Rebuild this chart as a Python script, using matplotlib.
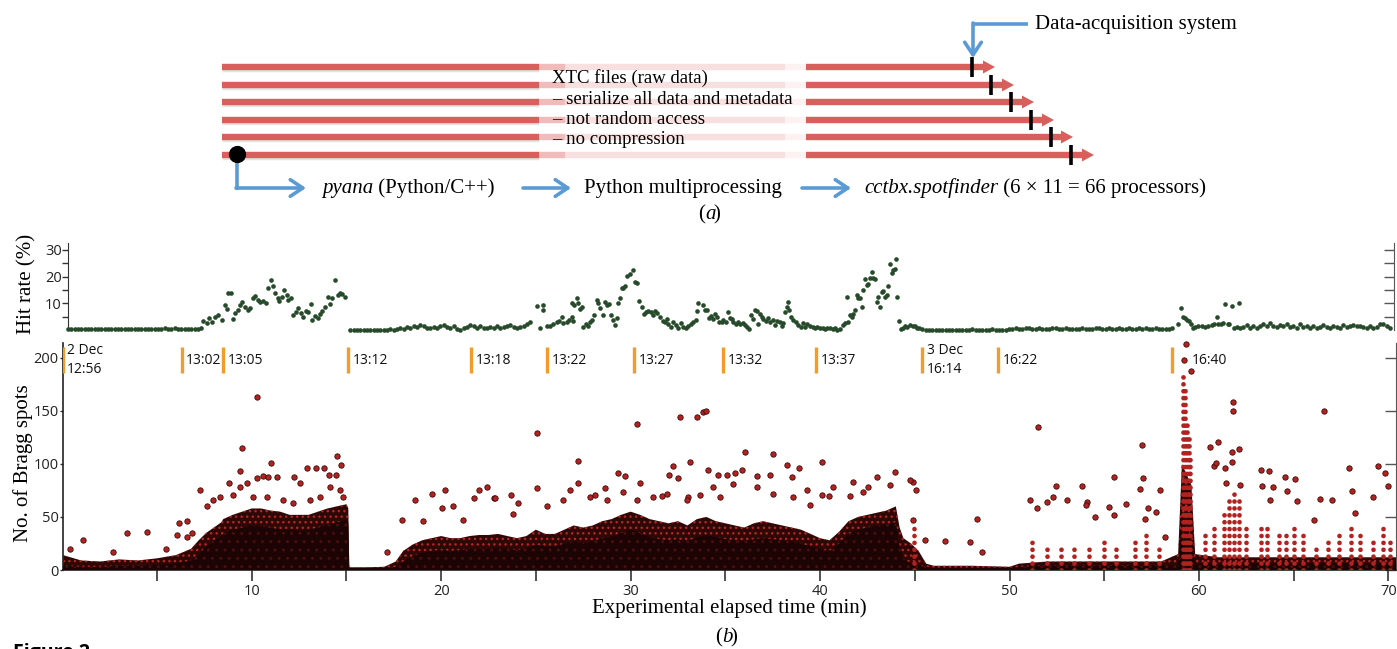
import numpy as np
import matplotlib
matplotlib.use("Agg")
import matplotlib.pyplot as plt

SERIF = "Liberation Serif"
SANS = "Open Sans"
plt.rcParams["font.family"] = SANS
plt.rcParams["hatch.linewidth"] = 1.0

# ---------------- hit rate (%) ----------------
hit_step = 0.176  # minutes between consecutive hit-rate bins

hit_flat_a_start = 0.3
hit_flat_a = [0.3, 0.3, 0.2, 0.3, 0.3, 0.3, 0.2, 0.3, 0.4, 0.3, 0.3, 0.4, 0.5, 0.4, 0.5, 0.3,
              0.4, 0.3, 0.3, 0.2, 0.3, 0.4, 0.3, 0.3, 0.4, 0.3, 0.3, 0.4, 0.5, 0.6, 0.4, 0.5,
              0.8, 0.4, 0.3, 0.2, 0.4, 0.5, 0.4, 0.5, 0.6]
hit_a_t = [7.45, 7.62, 7.75, 7.89, 8.06, 8.24, 8.42, 8.59, 8.68, 8.77, 8.91, 9.03, 9.12, 9.26,
           9.38, 9.47, 9.65, 9.79, 9.91, 10.09, 10.17, 10.31, 10.44, 10.61, 10.74, 10.88, 11.02,
           11.14, 11.23, 11.37, 11.44, 11.58, 11.72, 11.85, 11.93, 12.08, 12.2, 12.32, 12.46,
           12.6, 12.73, 12.85, 12.99, 13.13, 13.2, 13.34, 13.48, 13.61, 13.73, 13.87, 14.01,
           14.13, 14.26, 14.4, 14.54, 14.66, 14.79, 14.93]
hit_a_v = [3.4, 2.5, 4.4, 2.9, 5, 5.6, 3.8, 9.4, 7.9, 13.8, 14, 4, 6.3, 7.5,
           9.4, 10.6, 8.8, 7.5, 8.4, 11.9, 12.9, 11.3, 10.6, 10.9, 10, 15.9, 18.8,
           16.3, 13.8, 11.9, 10.9, 12.5, 15, 13.1, 11.3, 11.9, 5.6, 6.9, 8.4,
           6.3, 5, 7.1, 6.6, 9.6, 3.8, 5.4, 4.6, 5.9, 7.1, 8.8, 12.5,
           9.6, 11.9, 18.8, 13.1, 13.8, 13.4, 12.5]

hit_flat_b_start = 15.2
hit_flat_b = [0.1, 0.1, 0.1, 0.1, 0.1, 0.1, 0.1, 0.1, 0.1, 0.1, 0.1, 0.1, 0.2, 0.1, 0.2,
              0.9, 0.4, 1.1, 0.6, 1.4, 1.1, 1.9, 1.4, 0.9, 0.6, 1.1, 0.6, 1.4, 1.9, 1.1, 0.6,
              1.4, 0.4, 0.1, 0.6, 1.1, 1.9, 1.4, 0.9, 1.4, 0.9, 0.6, 1.1, 0.9, 1.4, 0.9, 1.1,
              1.6, 1.9, 1.1, 0.6, 1.1, 1.6, 2.1, 2.9]
hit_b_t = [25.08, 25.22, 25.36, 25.40, 25.57, 25.75, 25.93, 26.10, 26.24, 26.37, 26.45, 26.63,
           26.77, 26.89, 26.90, 26.98, 27.02, 27.16, 27.25, 27.33, 27.42, 27.51, 27.65, 27.77,
           27.86, 27.95, 28.07, 28.21, 28.30, 28.39, 28.53, 28.65, 28.74, 28.85, 28.95, 29.09,
           29.18, 29.27, 29.36, 29.45, 29.53, 29.62, 29.71, 29.80, 29.97, 30.15, 30.24, 30.36,
           30.47, 30.59, 30.71, 30.82, 30.94, 31.07, 31.17, 31.29, 31.42, 31.56, 31.70, 31.82,
           31.91, 32.00, 32.12, 32.26, 32.40, 32.53, 32.65, 32.79, 32.93, 33.05, 33.18, 33.32,
           33.46, 33.52, 33.58, 33.81, 33.93, 34.02, 34.16, 34.23, 34.34, 34.46, 34.55, 34.69,
           34.81, 34.90, 35.04, 35.16, 35.25, 35.34, 35.43, 35.57, 35.69, 35.78, 35.92, 36.04,
           36.17, 36.27, 36.34, 36.45, 36.57, 36.66, 36.75, 36.84, 36.92, 37.01, 37.15, 37.28,
           37.36, 37.50, 37.63, 37.75, 37.89, 37.98, 38.07, 38.16, 38.24, 38.33, 38.38, 38.46,
           38.60, 38.74, 38.86, 38.98, 39.09, 39.21, 39.34, 39.48, 39.62, 39.74, 39.86, 40.00,
           40.14, 40.27, 40.39, 40.53, 40.67, 40.80, 40.92, 41.06, 41.20, 41.32, 41.41, 41.50,
           41.59, 41.68, 41.76, 41.85, 41.94, 42.03, 42.12, 42.20, 42.29, 42.38, 42.47, 42.56,
           42.64, 42.73, 42.82, 42.91, 43.00, 43.08, 43.17, 43.26, 43.35, 43.44, 43.52, 43.61,
           43.70, 43.79, 43.88, 43.96, 44.02, 44.09, 44.19, 44.26, 44.37, 44.49, 44.62, 44.76,
           44.90, 45.02, 45.14, 45.25]
hit_b_v = [9.1, 0.9, 7.5, 9.4, 1.4, 1.6, 2.1, 2.9, 3.4, 5, 2.5, 3.1,
           3.8, 5, 10, 3.4, 9.4, 11.9, 10, 7.9, 8.8, 1.3, 2.1, 1.6,
           2.9, 3.8, 5.6, 11.3, 10, 8.1, 5.6, 10.6, 9.4, 9.6, 5.6, 3.8,
           1.9, 4.6, 10, 11.9, 15.6, 15.9, 16.3, 20.4, 20.9, 22.5, 18.1, 17.5,
           10.9, 8.8, 5.9, 6.9, 7.1, 6.6, 5.6, 7.1, 6.3, 5, 3.4, 2.9,
           4.1, 2.1, 1.3, 2.9, 1.9, 0.9, 2.5, 1.3, 0.6, 1.6, 2.1, 2.9,
           3.8, 7.1, 10, 9.4, 7.5, 7.5, 4.6, 5.4, 4.1, 5.9, 5, 2.9,
           3.1, 3.8, 2.9, 6.9, 4.6, 4.1, 2.9, 2.1, 2.9, 2.4, 2.5, 1.9,
           1.3, 0.4, 5.6, 4.1, 7.5, 7.1, 2.4, 5.9, 5, 4.1, 3.4, 4.4,
           2.9, 3.8, 1.9, 3.4, 2.9, 1.6, 2.5, 6.6, 8.8, 10.6, 7.5, 5,
           3.8, 2.9, 1.9, 1.3, 2.5, 1.3, 2.1, 1.6, 1.3, 0.9, 1.1, 0.6,
           0.9, 0.4, 0.6, 0.9, 0.4, 0.6, 0.1, 0.4, 1.9, 2.5, 12.5, 2.9,
           5.6, 5, 5.9, 7.5, 13.1, 11.9, 11.9, 8.8, 15, 19.1, 16.9, 17.1,
           19.4, 21.9, 19.4, 19.1, 10.6, 12.5, 8.8, 14.4, 14.6, 12.5, 13.1, 16.6,
           24.6, 21.3, 22.5, 22.9, 26.6, 12.5, 3.4, 0.4, 0.9, 1.6, 1.1, 1.9,
           1.4, 1.6, 0.9, 0.6]

hit_flat_c_start = 45.4
hit_flat_c = [0.2, 0.1, 0.1, 0.1, 0.1, 0.1, 0.1, 0.1, 0.1, 0.1, 0.1, 0.1, 0.1, 0.1, 0.1, 0.2,
              0.1, 0.1, 0.1, 0.1, 0.1, 0.2, 0.1, 0.1, 0.1, 0.1,
              0.3, 0.4, 0.6, 0.5, 0.4, 0.6, 0.8, 0.5, 0.4, 0.6, 0.5, 0.4, 0.5, 0.7, 0.6, 0.4,
              0.5, 0.6, 0.5, 0.4, 0.5, 0.4, 0.6, 0.5, 0.4, 0.5, 0.8, 0.6, 0.4, 0.5, 0.6, 0.4,
              0.5, 0.7, 0.5, 0.4, 0.6, 0.5, 0.4, 0.6, 0.5, 0.7, 0.5, 0.4, 0.6, 0.5, 0.4, 0.5,
              0.4, 0.6]
hit_c_t = [58.93, 59.05, 59.16, 59.28, 59.37, 59.51, 59.58, 59.68, 59.81, 59.98, 60.16, 60.34,
           60.51, 60.69, 60.81, 60.95, 61.04, 61.16, 61.30, 61.39, 61.52, 61.62, 61.74, 61.87,
           62.01, 62.10]
hit_c_v = [2.1, 8.1, 5, 4.4, 3.8, 3.4, 2.1, 0.6, 1.1, 1.4, 1.6, 1.1,
           1.6, 1.9, 2.1, 5, 2.1, 2.4, 2.5, 9.8, 2.1, 2.1, 9.1, 0.6,
           1.1, 10.1]

hit_flat_d_start = 62.18
hit_flat_d = [0.9, 1.3, 1.9, 0.9, 1.4, 0.9, 1.6, 2.1, 1.6, 2.6, 1.6, 1.1, 1.9, 1.4, 2.4, 1.1,
              1.6, 0.9, 2.1, 1.1, 1.6, 0.9, 1.4, 0.9, 1.1, 1.9, 1.1, 0.9, 1.6, 1.1, 0.9, 1.9,
              1.1, 1.6, 1.9, 1.4, 1.6, 1.1, 0.9, 1.4, 0.9, 1.1, 2.4, 2.1, 1.4, 0.6]

# ---------------- Bragg spots ----------------
env_t = [0.05, 1, 2, 3, 4, 5, 6, 6.8, 7.2, 7.6,
         8.0, 8.4, 8.5, 9.0, 9.5, 10.0, 10.5, 11.0, 11.5, 12.0,
         12.5, 13.0, 13.5, 14.0, 14.5, 15.0, 15.1, 15.15, 16.0, 17.0,
         17.6, 18.0, 18.5, 19.0, 19.5, 20.0, 20.5, 21.0, 21.5, 22.0,
         22.5, 23.0, 23.5, 24.0, 24.5, 25.0, 25.5, 26.0, 26.5, 27.0,
         27.5, 28.0, 28.5, 29.0, 29.5, 30.0, 30.5, 31.0, 31.5, 32.0,
         32.5, 33.0, 33.5, 34.0, 34.5, 35.0, 35.5, 36.0, 36.5, 37.0,
         37.5, 38.0, 38.5, 39.0, 39.5, 40.0, 40.5, 41.0, 41.5, 42.0,
         42.5, 43.0, 43.5, 44.0, 44.2, 44.4, 44.8, 45.2, 45.6, 46.0,
         48.0, 50.0, 50.5, 52.0, 54.0, 56.0, 58.0, 58.9, 59.1, 59.6,
         59.8, 61.0, 62.0, 64.0, 66.0, 68.0, 70.4]
env_core = [4, 3, 3, 4, 4, 5, 6, 9, 15, 22,
            28, 32, 34, 38, 40, 42, 41, 40, 38, 38,
            37, 38, 40, 42, 45, 47, 44, 2, 2, 2,
            3, 8, 13, 16, 18, 19, 18, 19, 20, 20,
            20, 21, 20, 19, 20, 24, 22, 22, 25, 27,
            25, 27, 30, 31, 35, 38, 35, 31, 29, 28,
            29, 27, 31, 33, 31, 29, 28, 27, 29, 30,
            29, 28, 27, 25, 22, 20, 18, 25, 34, 38,
            40, 42, 43, 45, 22, 11, 6, 4, 3, 2,
            2, 2, 3, 4, 4, 4, 4, 5, 50, 30,
            5, 6, 6, 6, 6, 6, 6]
env_fringe = [14, 9, 8, 10, 9, 11, 14, 20, 28, 35,
              40, 45, 48, 52, 55, 58, 58, 56, 55, 52,
              52, 52, 55, 58, 60, 62, 58, 2.5, 2.5, 3,
              8, 18, 24, 28, 30, 32, 30, 30, 32, 33,
              33, 34, 32, 30, 32, 38, 34, 34, 38, 42,
              40, 42, 46, 48, 52, 55, 52, 48, 46, 44,
              46, 42, 48, 50, 46, 44, 42, 40, 44, 46,
              44, 42, 40, 38, 34, 30, 28, 36, 46, 50,
              52, 54, 56, 60, 40, 30, 25, 18, 6, 4,
              4, 3, 6, 8, 8, 8, 8, 15, 100, 80,
              15, 12, 12, 12, 12, 12, 12]

col_t = [44.95, 51.2, 52.0, 52.7, 53.4, 54.2, 55.0, 55.6, 56.6, 57.2, 57.9,
         59.15, 59.25, 59.35, 59.45, 59.55, 60.3, 60.8, 61.3, 61.6, 61.85, 62.1,
         62.5, 63.3, 63.6, 64.2, 64.6, 65.0, 65.5, 66.2, 66.8, 67.4, 68.0, 68.5,
         69.2, 69.7, 70.1]
col_h = [45, 30, 25, 22, 20, 25, 30, 22, 30, 35, 20,
         185, 170, 140, 125, 105, 35, 40, 55, 70, 75, 70,
         40, 45, 40, 38, 35, 45, 35, 25, 30, 35, 40, 35,
         30, 45, 30]

out_t = [10.26, 9.49, 9.38, 8.82, 7.27, 11.0, 10.26, 10.61, 10.88, 11.32, 12.23, 12.9, 13.39,
         13.82, 14.49, 14.7, 14.1, 14.45, 12.55, 9.73, 1.07, 3.4, 4.45, 6.18, 0.41, 2.7, 5.5,
         6.83, 6.57, 6.04, 17.13, 17.92, 18.62, 19.5, 20.2, 20.03, 20.65, 21.14, 19.06, 22.0,
         21.75, 22.79,
         25.04, 25.04, 27.24, 27.24, 30.32, 32.61, 33.49, 33.84, 33.98, 36.04, 37.54, 40.09,
         38.24, 38.91, 33.14, 32.26, 29.35, 29.71, 32.05, 32.52, 34.07, 34.6, 35.07, 35.51,
         35.87, 36.66, 37.36, 38.5, 40.7, 41.76, 42.99, 43.96, 44.93, 45.07, 22.44, 22.84,
         23.67, 24.07, 26.8, 28.12, 28.65, 30.5, 31.2, 31.64, 33.05, 33.67, 39.47, 40.09,
         40.49,
         44.9, 45.55, 46.61, 48.28, 47.93, 48.54, 51.53, 51.09, 51.45, 51.97, 52.29, 52.47,
         53.06, 53.82, 54.09, 54.05, 54.53, 55.23, 55.49, 55.49, 56.16, 57.01, 57.04, 56.9,
         57.29, 57.75, 57.96, 57.17, 58.22, 59.31, 59.22, 59.58, 61.79, 61.79, 60.6, 61.0,
         60.78, 60.92, 61.39, 61.44, 61.76, 62.09, 61.76, 62.15, 63.27, 63.68, 63.32, 63.92,
         64.52, 65.05, 64.64, 66.58, 67.9, 69.45, 69.84, 69.96, 68.08, 69.19, 67.02, 66.37,
         65.17, 63.77, 66.05, 68.25,
         9.03, 9.38, 10.09, 10.79, 11.67, 12.2, 13.08, 13.6, 14.13, 14.66, 14.84, 7.97,
         8.33, 7.62, 6.57, 23.81, 25.57, 26.45, 27.86, 28.74, 29.62, 30.32, 31.9, 32.96,
         34.37, 34.72, 35.43, 36.66, 37.54, 38.59, 39.3, 41.59, 42.29, 42.55, 43.7, 44.75]
out_v = [163.5, 114.8, 93.5, 82.4, 75.5, 100.6, 86.4, 88.6, 88, 88, 88, 96, 96.5,
         96.5, 107.5, 99, 90, 90, 81.7, 81.7, 28, 35, 35.5, 44, 20.2, 17, 20,
         35, 31, 33, 17, 47, 66, 72, 75, 58.5, 60, 47, 46, 75,
         67.5, 67.5,
         129.5, 77, 103, 82, 137.5, 144, 144.5, 148.5, 150, 111, 109, 102,
         99, 96.5, 102, 98, 91, 89, 90, 87, 94, 90, 90, 91,
         94, 89, 90, 88, 78.5, 83, 88, 92.6, 83, 75.5, 78, 67.5,
         71, 63, 75, 71, 77, 82, 69, 69.5, 69, 71, 61, 71,
         70,
         47, 28, 27.5, 48, 26, 17, 135, 66, 58, 64.5, 68.5, 79.5,
         66, 79.5, 64.5, 61, 50, 59, 88, 52, 62, 117.5, 87, 76.5,
         58, 55, 75.5, 48, 31, 213, 198, 188, 158, 150, 115.5, 120.5,
         98.5, 101, 96, 82, 111.5, 114.5, 102, 80, 94, 93, 79.5, 78.5,
         88, 86, 74.5, 150, 96.5, 98, 91, 79.5, 74.5, 68.5, 66, 66.5,
         65, 66, 47, 53.5,
         70.8, 78, 69, 69, 66, 63, 66, 69, 78, 75, 69, 66,
         69, 60, 46, 53, 60, 66, 69, 66, 74, 66, 72, 66,
         78, 69, 81, 78, 72, 69, 75, 70, 74, 78, 80, 85]

marker_t = [0.04, 6.3, 8.5, 15.1, 21.6, 25.6, 30.2, 34.9, 39.8, 45.4, 49.4, 58.6]
marker_lbl = ["2 Dec\n12:56", "13:02", "13:05", "13:12", "13:18", "13:22", "13:27",
              "13:32", "13:37", "3 Dec\n16:14", "16:22", "16:40"]

x_major = [10, 20, 30, 40, 50, 60, 70]
x_minor = [5, 15, 25, 35, 45, 55, 65]

# ---------------- figure ----------------
W, H = 1397, 649
fig = plt.figure(figsize=(W / 100, H / 100), dpi=100)

RED = "#d95f5c"
BLUE = "#5b9bd5"
ARROW = "->,head_length=0.45,head_width=0.3"

# ---- (a) pipeline diagram ----
ax_d = fig.add_axes([0, 1 - 225 / H, 1, 225 / H])
ax_d.set_xlim(0, W)
ax_d.set_ylim(225, 0)
ax_d.axis("off")

bar_y = [67, 85, 102, 120, 137, 155]
tip_x = [995, 1014, 1034, 1054, 1073, 1094]
stop_x = [972, 991, 1011, 1031, 1051, 1071]
for y, tip, sx in zip(bar_y, tip_x, stop_x):
    ax_d.plot([222, 539], [y + 3, y + 3], color="#b0b0b0", lw=2.5, alpha=0.35,
              solid_capstyle="butt")
    ax_d.plot([222, 539], [y, y], color=RED, lw=4.6, solid_capstyle="butt")
    ax_d.plot([539, 565], [y, y], color="#f0bcbb", lw=4.6, solid_capstyle="butt")
    ax_d.plot([565, 785], [y, y], color="#f9e0e0", lw=4.6, solid_capstyle="butt")
    ax_d.plot([785, 806], [y, y], color="#fdf1f1", lw=4.6, solid_capstyle="butt")
    ax_d.plot([806, tip - 10], [y, y], color=RED, lw=4.6, solid_capstyle="butt")
    ax_d.fill([tip - 12, tip, tip - 12], [y - 6.5, y, y + 6.5], color=RED, lw=0)
    ax_d.plot([sx, sx], [y - 10, y + 10], color="black", lw=2.6, solid_capstyle="butt")

# data-acquisition pointer
ax_d.plot([1028, 973], [24, 24], color=BLUE, lw=2.6, solid_capstyle="butt")
ax_d.annotate("", xy=(973, 58), xytext=(973, 23),
              arrowprops=dict(arrowstyle=ARROW, color=BLUE, lw=2.6, mutation_scale=20,
                              shrinkA=0, shrinkB=0))
ax_d.text(1035, 24, "Data-acquisition system", family=SERIF, fontsize=15, va="center")

# pipeline start
ax_d.plot([237, 237], [154, 188], color=BLUE, lw=2.6)
ax_d.annotate("", xy=(306, 188), xytext=(236, 188),
              arrowprops=dict(arrowstyle=ARROW, color=BLUE, lw=2.6, mutation_scale=20,
                              shrinkA=0, shrinkB=0))
ax_d.scatter([237], [154], s=130, color="black", zorder=6)
for x0, x1 in [(523, 571), (802, 851)]:
    ax_d.annotate("", xy=(x1, 188), xytext=(x0, 188),
                  arrowprops=dict(arrowstyle=ARROW, color=BLUE, lw=2.6, mutation_scale=20,
                                  shrinkA=0, shrinkB=0))

t1 = ax_d.text(322, 188, "pyana", family=SERIF, style="italic", fontsize=15, va="center")
ax_d.annotate(" (Python/C++)", xy=(1, 0), xycoords=t1, va="bottom", family=SERIF,
              fontsize=15)
ax_d.text(584, 188, "Python multiprocessing", family=SERIF, fontsize=15, va="center")
t2 = ax_d.text(864, 188, "cctbx.spotfinder", family=SERIF, style="italic", fontsize=15,
               va="center")
ax_d.annotate(" (6 \u00d7 11 = 66 processors)", xy=(1, 0), xycoords=t2, va="bottom",
              family=SERIF, fontsize=15)

xtc_lines = ["XTC files (raw data)", "\u2013 serialize all data and metadata",
             "\u2013 not random access", "\u2013 no compression"]
for y, s in zip([78, 99, 119, 140], xtc_lines):
    ax_d.text(552, y, s, family=SERIF, fontsize=13.5, va="center")
ax_d.text(705, 215, "(", family=SERIF, fontsize=15, va="center", ha="right")
ax_d.text(705, 215, "a", family=SERIF, style="italic", fontsize=15, va="center", ha="left")
ax_d.text(713, 215, ")", family=SERIF, fontsize=15, va="center", ha="left")

# ---- hit rate panel ----
ax_h = fig.add_axes([68 / W, 1 - 330 / H, (1394 - 68) / W, (330 - 243) / H])
hit_t = np.concatenate([
    hit_flat_a_start + hit_step * np.arange(len(hit_flat_a)), hit_a_t,
    hit_flat_b_start + hit_step * np.arange(len(hit_flat_b)), hit_b_t,
    hit_flat_c_start + hit_step * np.arange(len(hit_flat_c)), hit_c_t,
    hit_flat_d_start + hit_step * np.arange(len(hit_flat_d))])
hit_v = np.concatenate([hit_flat_a, hit_a_v, hit_flat_b, hit_b_v,
                        hit_flat_c, hit_c_v, hit_flat_d])
ax_h.scatter(hit_t, hit_v, s=11, color="#264a2a", linewidths=0, clip_on=False, zorder=3)
ax_h.set_xlim(0.3, 70.31)
ax_h.set_ylim(0, 32.6)
for side in ["top", "bottom", "right"]:
    ax_h.spines[side].set_visible(False)
ax_h.spines["left"].set_color("#333333")
ax_h.set_xticks([])
ax_h.set_yticks([5, 10, 15, 20, 25, 30])
ax_h.set_yticklabels(["", "10", "", "20", "", "30"])
ax_h.tick_params(axis="y", direction="out", length=4, width=1, colors="#333333",
                 labelcolor="#222222", labelsize=10.5, pad=0.5)
sec_h = ax_h.secondary_yaxis("right")
sec_h.set_yticks([5, 10, 15, 20, 25, 30])
sec_h.tick_params(direction="in", length=7, width=1, colors="#555555", labelright=False)
sec_h.spines["right"].set_color("#555555")
ax_h.set_ylabel("Hit rate (%)", family=SERIF, fontsize=15)
ax_h.yaxis.set_label_coords(-0.024, 0.53)

# ---- Bragg spots panel ----
ax_b = fig.add_axes([63 / W, 1 - 570 / H, (1396 - 63) / W, 227 / H])
ax_b.fill_between(env_t, 0, env_fringe, facecolor="#2e0707", edgecolor="#b52622",
                  hatch="...", linewidth=0, zorder=2)
ax_b.fill_between(env_t, 0, env_core, facecolor="#1c0404", edgecolor="#4a0e0e",
                  hatch="..", linewidth=0, zorder=3)
ax_b.vlines(col_t, 0, col_h, colors="#b3221f", linewidth=3.4,
            linestyles=[(0, (0.01, 1.45))], capstyle="round", zorder=4)
ax_b.scatter(out_t, out_v, s=15, facecolor="#b3221f", edgecolor="#3b0a0a",
             linewidth=0.6, zorder=5, clip_on=False)
ax_b.set_xlim(0.04, 70.4)
ax_b.set_ylim(0, 214)
ax_b.spines["top"].set_visible(False)
ax_b.spines["right"].set_visible(False)
for side in ["left", "bottom"]:
    ax_b.spines[side].set_color("#222222")
    ax_b.spines[side].set_linewidth(1.2)
ax_b.set_xticks(x_major)
ax_b.set_xticks(x_minor, minor=True)
ax_b.tick_params(axis="x", which="both", direction="out", length=8, width=1.2,
                 colors="#333333", labelcolor="#222222", labelsize=10.5, pad=2)
ax_b.set_yticks([0, 50, 100, 150, 200])
ax_b.tick_params(axis="y", direction="out", length=2.5, width=1, colors="#333333",
                 labelcolor="#222222", labelsize=10.5, pad=0.5)
sec_b = ax_b.secondary_yaxis("right")
sec_b.set_yticks([0, 50, 100, 150, 200])
sec_b.tick_params(direction="in", length=8, width=1, colors="#555555", labelright=False)
sec_b.spines["right"].set_color("#555555")
ax_b.set_ylabel("No. of Bragg spots", family=SERIF, fontsize=15)
ax_b.yaxis.set_label_coords(-0.0225, 0.47)
ax_b.set_xlabel("Experimental elapsed time (min)", family=SERIF, fontsize=15)
ax_b.xaxis.set_label_coords(0.5, -0.125)

trans = ax_b.get_xaxis_transform()
ax_b.vlines(marker_t, 0.868, 0.982, transform=trans, colors="#f39c2a", linewidth=2.4,
            zorder=6)
for t, lbl in zip(marker_t, marker_lbl):
    dx = 14 if lbl == "16:40" else 3
    ax_b.annotate(lbl, xy=(t, 0.925), xycoords=trans, xytext=(dx, 0),
                  textcoords="offset points", va="center", ha="left", fontsize=10,
                  linespacing=1.35, color="#111111", zorder=7)

fig.text(722 / W, 1 - 638 / H, "(", family=SERIF, fontsize=15, va="center", ha="right")
fig.text(722 / W, 1 - 638 / H, "b", family=SERIF, style="italic", fontsize=15,
         va="center", ha="left")
fig.text(730 / W, 1 - 638 / H, ")", family=SERIF, fontsize=15, va="center", ha="left")
fig.text(13 / W, 1 - 643 / H, "Figure 2", fontsize=14, fontweight="bold", va="top")

fig.savefig("out.png", dpi=100)
